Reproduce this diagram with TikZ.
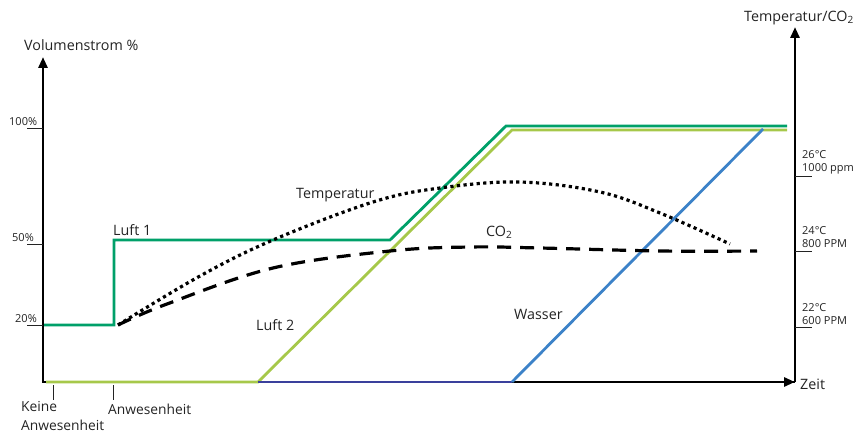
\documentclass[tikz,border=0pt]{standalone}
\usepackage{fontspec}
\setmainfont{Open Sans}
\usetikzlibrary{arrows.meta}
\definecolor{luftone}{RGB}{0,160,105}
\definecolor{lufttwo}{RGB}{166,200,74}
\definecolor{wasserblue}{RGB}{60,130,200}
\definecolor{navyline}{RGB}{58,64,156}
\definecolor{txt}{RGB}{35,35,35}
\tikzset{
  axis/.style={line width=2.8pt,-{Triangle[length=11pt,width=9pt]}},
  tickline/.style={line width=0.8pt,draw=txt},
  smalllabel/.style={font=\fontsize{11}{13}\selectfont,text=txt,inner sep=0pt,anchor=west,align=left},
  biglabel/.style={font=\fontsize{14.3}{16}\selectfont,text=txt,inner sep=0pt},
  curve/.style={line width=3.2pt},
  colline/.style={line width=2.8pt},
}
\begin{document}
\begin{tikzpicture}[x=1pt,y=-1pt]
\useasboundingbox (0,0) rectangle (868,436);
% axes
\coordinate (O) at (43,382);
\coordinate (Ytop) at (43,57);
\coordinate (Xend) at (795,382);
\coordinate (Rtop) at (795,27);
\draw[line width=2.8pt] (Xend) -- (O) -- (43,70);
\draw[axis] (43,80) -- (Ytop);
\draw[axis] (O) -- (Xend);
\draw[axis] (Xend) -- (Rtop);
% axis titles
\node[biglabel,anchor=west] (ytitle) at (24,45) {Volumenstrom \%};
\node[biglabel,anchor=west] (rtitle) at (744,18) {Temperatur/CO\textsubscript{2}};
\node[biglabel,anchor=west] (zeit) at (800,384) {Zeit};
% left ticks
\node[smalllabel] (p100) at (9,122) {100\%};
\draw[tickline] (27,128) -- (43,128);
\node[smalllabel] (p50) at (12,238) {50\%};
\draw[tickline] (27,244) -- (43,244);
\node[smalllabel] (p20) at (15,319) {20\%};
\draw[tickline] (27,325) -- (43,325);
% right ticks
\node[smalllabel] (r26) at (802,162) {26°C\\1000 ppm};
\draw[tickline] (795,176) -- (812,176);
\node[smalllabel] (r24) at (802,237) {24°C\\800 PPM};
\draw[tickline] (795,251) -- (812,251);
\node[smalllabel] (r22) at (802,314) {22°C\\600 PPM};
\draw[tickline] (795,327) -- (812,327);
% bottom ticks
\draw[tickline] (53,385) -- (53,400);
\draw[tickline] (113,385) -- (113,400);
\node[biglabel,anchor=north west,align=left,font=\fontsize{13.8}{19}\selectfont] (keine) at (21,401) {Keine\\Anwesenheit};
\node[biglabel,anchor=north west,font=\fontsize{13.8}{16}\selectfont] (anw) at (108,404) {Anwesenheit};
% lines
\draw[colline,lufttwo] (46,382) -- (258,382) -- (512,130) -- (787,130);
\draw[colline,navyline] (258,382) -- (512,382);
\draw[colline,wasserblue] (512,382) -- (763,129);
\draw[colline,luftone] (44,325) -- (114,325) -- (114,240) -- (390,240) -- (506,126) -- (787,126);
% curves
\draw[curve,dash pattern=on 3.2pt off 3.4pt] plot[smooth,tension=0.6] coordinates {(118,325) (200,276) (273,240) (373,202) (440,188) (520,182) (600,192) (660,213) (730,244)};
\draw[curve,dash pattern=on 14pt off 9pt] plot[smooth,tension=0.6] coordinates {(118,325) (167,304) (273,268) (390,251) (470,247) (540,248) (660,251) (757,251)};
% labels
\node[biglabel,anchor=west] (l1) at (113,230) {Luft 1};
\node[biglabel,anchor=west] (temp) at (296,195) {Temperatur};
\node[biglabel,anchor=west] (co2) at (486,232) {CO\textsubscript{2}};
\node[biglabel,anchor=west] (l2) at (256,325) {Luft 2};
\node[biglabel,anchor=west] (wasser) at (514,314) {Wasser};
\end{tikzpicture}
\end{document}
